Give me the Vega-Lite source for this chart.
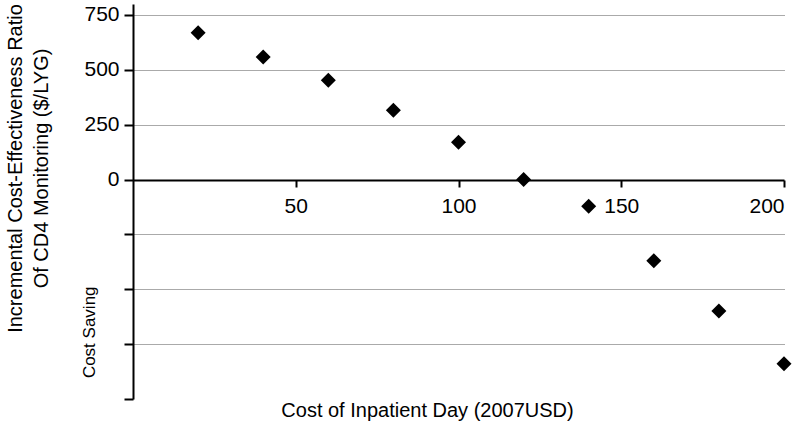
{
  "$schema": "https://vega.github.io/schema/vega-lite/v6.json",
  "width": 651,
  "height": 395,
  "autosize": {"type": "none"},
  "padding": {"left": 133, "top": 4, "right": 16, "bottom": 30},
  "config": {"view": {"stroke": null}, "font": "Liberation Sans"},
  "layer": [
    {
      "data": {"values": [
        {"cost": 20, "icer": 669},
        {"cost": 40, "icer": 559},
        {"cost": 60, "icer": 452},
        {"cost": 80, "icer": 316},
        {"cost": 100, "icer": 170},
        {"cost": 120, "icer": 0},
        {"cost": 140, "icer": -122},
        {"cost": 160, "icer": -370},
        {"cost": 180, "icer": -599},
        {"cost": 200, "icer": -839}
      ]},
      "mark": {"type": "point", "shape": "diamond", "filled": true, "color": "black", "size": 225, "opacity": 1},
      "encoding": {
        "x": {
          "field": "cost", "type": "quantitative",
          "scale": {"domain": [0, 200], "nice": false},
          "axis": {
            "orient": "bottom", "offset": -219,
            "values": [50, 100, 150, 200],
            "grid": false,
            "domainColor": "black", "domainWidth": 2,
            "tickColor": "black", "tickWidth": 2, "tickSize": 7,
            "labelPadding": 8, "labelFontSize": 21, "labelColor": "black",
            "title": "Cost of Inpatient Day (2007USD)",
            "titleFontSize": 20, "titleFontWeight": "normal", "titleColor": "black",
            "titleX": 294, "titleY": 236, "titleAlign": "center", "titleBaseline": "alphabetic"
          }
        },
        "y": {
          "field": "icer", "type": "quantitative",
          "scale": {"domain": [-1000, 800], "nice": false, "zero": false},
          "axis": {
            "values": [750, 500, 250, 0, -250, -500, -750, -1000],
            "labelExpr": "datum.value >= 0 ? datum.label : ''",
            "grid": true, "gridColor": "#555", "gridDash": [1, 1], "gridWidth": 1,
            "gridOpacity": {"condition": {"test": "datum.value === 0 || datum.value === -1000", "value": 0}, "value": 1},
            "domainColor": "black", "domainWidth": 2,
            "tickColor": "black", "tickWidth": 2, "tickSize": 9,
            "labelPadding": 5, "labelFontSize": 21, "labelColor": "black",
            "title": ["Incremental Cost-Effectiveness Ratio", "Of CD4 Monitoring ($/LYG)"],
            "titleFontSize": 20, "titleFontWeight": "normal", "titleColor": "black",
            "titleLineHeight": 26, "titleAngle": 270,
            "titleX": -128, "titleY": 164, "titleAlign": "center", "titleBaseline": "top"
          }
        }
      }
    },
    {
      "data": {"values": [{"cost": -13.2, "icer": -696, "label": "Cost Saving"}]},
      "mark": {"type": "text", "angle": 270, "fontSize": 17, "align": "center", "baseline": "middle", "color": "black"},
      "encoding": {
        "x": {"field": "cost", "type": "quantitative"},
        "y": {"field": "icer", "type": "quantitative"},
        "text": {"field": "label"}
      }
    }
  ]
}
